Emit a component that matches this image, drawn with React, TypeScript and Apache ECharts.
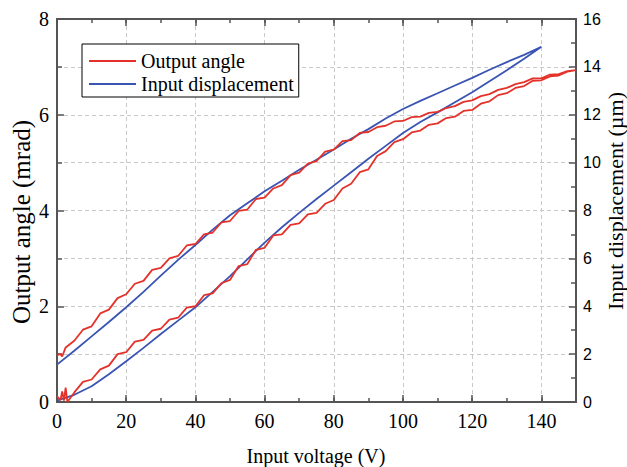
import React, { useEffect, useRef } from "react";
import * as echarts from "echarts";

// Output angle (mrad), left axis: rising branch then falling branch
const angleRise: [number, number][] = [
  [0, 0.12], [1, 0.04], [1.5, 0.22], [2, 0.03], [2.5, 0.3], [3, 0.0], [4, 0.1], [5, 0.2],
  [7.5, 0.42], [10, 0.47], [12.5, 0.68], [15, 0.76], [17.5, 1.0], [20, 1.04], [22.5, 1.26],
  [25, 1.3], [27.5, 1.49], [30, 1.53], [32.5, 1.72], [35, 1.76], [37.5, 1.97], [40, 2.0],
  [42.5, 2.23], [45, 2.27], [47.5, 2.48], [50, 2.55], [52.5, 2.84], [55, 2.88], [57.5, 3.18],
  [60, 3.22], [62.5, 3.48], [65, 3.5], [67.5, 3.7], [70, 3.73], [72.5, 3.92], [75, 3.95],
  [77.5, 4.14], [80, 4.22], [82.5, 4.46], [85, 4.56], [87.5, 4.8], [90, 4.86], [92.5, 5.14],
  [95, 5.24], [97.5, 5.43], [100, 5.49], [102.5, 5.63], [105, 5.67], [107.5, 5.79], [110, 5.82],
  [112.5, 5.93], [115, 5.96], [117.5, 6.08], [120, 6.1], [122.5, 6.23], [125, 6.28], [127.5, 6.41],
  [130, 6.45], [132.5, 6.56], [135, 6.6], [137.5, 6.71], [140, 6.72], [142.5, 6.8], [145, 6.82],
  [147.5, 6.9], [150, 6.93],
];
const angleFall: [number, number][] = [
  [147.5, 6.91], [145, 6.85], [142.5, 6.84], [140, 6.76], [137.5, 6.76], [135, 6.68], [132.5, 6.64],
  [130, 6.56], [127.5, 6.52], [125, 6.43], [122.5, 6.39], [120, 6.3], [117.5, 6.27], [115, 6.18],
  [112.5, 6.14], [110, 6.06], [107.5, 6.04], [105, 5.96], [102.5, 5.95], [100, 5.87], [97.5, 5.86],
  [95, 5.77], [92.5, 5.74], [90, 5.64], [87.5, 5.62], [85, 5.47], [82.5, 5.45], [80, 5.27],
  [77.5, 5.23], [75, 5.03], [72.5, 4.98], [70, 4.79], [67.5, 4.74], [65, 4.53], [62.5, 4.46],
  [60, 4.27], [57.5, 4.24], [55, 4.02], [52.5, 3.99], [50, 3.78], [47.5, 3.75], [45, 3.54],
  [42.5, 3.5], [40, 3.3], [37.5, 3.27], [35, 3.05], [32.5, 3.0], [30, 2.8], [27.5, 2.76],
  [25, 2.53], [22.5, 2.47], [20, 2.25], [17.5, 2.17], [15, 1.93], [12.5, 1.85], [10, 1.58],
  [7.5, 1.51], [5, 1.28], [2.5, 1.14], [1.5, 0.95], [1, 1.0], [0, 0.98],
];

// Input displacement (µm), right axis: rising branch then falling branch
const dispRise: [number, number][] = [
  [0, 0.06], [5, 0.3], [10, 0.66], [15, 1.16], [20, 1.7], [25, 2.26], [30, 2.84], [35, 3.4],
  [40, 3.96], [45, 4.6], [50, 5.26], [55, 5.96], [60, 6.66], [65, 7.3], [70, 7.9], [75, 8.48],
  [80, 9.04], [85, 9.6], [90, 10.16], [95, 10.7], [100, 11.24], [105, 11.7], [110, 12.1],
  [115, 12.52], [120, 12.94], [125, 13.4], [130, 13.86], [135, 14.34], [140, 14.84],
];
const dispFall: [number, number][] = [
  [135, 14.5], [130, 14.2], [125, 13.88], [120, 13.54], [115, 13.22], [110, 12.9], [105, 12.58],
  [100, 12.24], [95, 11.84], [90, 11.4], [85, 11.0], [80, 10.55], [75, 10.12], [70, 9.7],
  [65, 9.24], [60, 8.8], [55, 8.3], [50, 7.8], [45, 7.2], [40, 6.56], [35, 5.94], [30, 5.28],
  [25, 4.6], [20, 3.96], [15, 3.34], [10, 2.74], [5, 2.14], [0, 1.56],
];

const seriesNames = ["Output angle", "Input displacement"];
const xTitle = "Input voltage (V)";
const yLeftTitle = "Output angle (mrad)";
const yRightTitle = "Input displacement (µm)";

const SERIF = '"Liberation Serif", "Times New Roman", serif';
const SANS = '"Liberation Sans", Arial, sans-serif';
const AXIS_COLOR = "#555555";
const GRID_LINE = { show: true, lineStyle: { color: "#c9c9c9", type: [4, 3] as any, width: 1 } };

export default function App() {
  const ref = useRef<HTMLDivElement>(null);
  useEffect(() => {
    if (!ref.current) return;
    const chart = echarts.init(ref.current, undefined, { renderer: "svg" });
    const axisLine = { show: true, onZero: false, lineStyle: { color: AXIS_COLOR, width: 2 } };
    const xCommon = { type: "value" as const, min: 0, max: 150, axisLine };
    chart.setOption({
      animation: false,
      backgroundColor: "#ffffff",
      grid: { left: 57, right: 51, top: 19, bottom: 65, containLabel: false },
      legend: {
        orient: "vertical",
        left: 82,
        top: 44,
        padding: [7, 5, 3, 7],
        itemGap: 3,
        itemWidth: 47,
        itemHeight: 2,
        icon: "rect",
        borderColor: "#000",
        borderWidth: 1,
        backgroundColor: "#fff",
        textStyle: { fontFamily: SERIF, fontSize: 20, lineHeight: 20, color: "#000", padding: [0, 0, 0, 0] },
        data: seriesNames,
      },
      xAxis: [
        {
          ...xCommon, position: "bottom", interval: 20,
          axisTick: { show: true, inside: true, length: 7, lineStyle: { color: AXIS_COLOR, width: 1.5 } },
          axisLabel: { show: true, margin: 9, fontFamily: SERIF, fontSize: 20, color: "#000", showMaxLabel: false },
          splitLine: GRID_LINE,
        },
        {
          ...xCommon, position: "bottom", interval: 10,
          axisTick: { show: true, inside: true, length: 4, lineStyle: { color: AXIS_COLOR, width: 1.5 } },
          axisLabel: { show: false }, splitLine: { show: false },
        },
        {
          ...xCommon, position: "top", interval: 20,
          axisTick: { show: true, inside: true, length: 7, lineStyle: { color: AXIS_COLOR, width: 1.5 } },
          axisLabel: { show: false }, splitLine: { show: false },
        },
        {
          ...xCommon, position: "top", interval: 10,
          axisTick: { show: true, inside: true, length: 4, lineStyle: { color: AXIS_COLOR, width: 1.5 } },
          axisLabel: { show: false }, splitLine: { show: false },
        },
      ],
      yAxis: [
        {
          type: "value", position: "left", min: 0, max: 8, interval: 2, axisLine,
          axisTick: { show: true, inside: true, length: 7, lineStyle: { color: AXIS_COLOR, width: 1.5 } },
          minorTick: { show: true, splitNumber: 2, length: 5, lineStyle: { color: AXIS_COLOR, width: 1.5 } },
          axisLabel: { margin: 8, fontFamily: SERIF, fontSize: 20, color: "#000" },
          splitLine: GRID_LINE,
          minorSplitLine: GRID_LINE,
        },
        {
          type: "value", position: "right", min: 0, max: 16, interval: 2, axisLine,
          axisTick: { show: true, inside: true, length: 7, lineStyle: { color: AXIS_COLOR, width: 1.5 } },
          minorTick: { show: true, splitNumber: 2, length: 5, lineStyle: { color: AXIS_COLOR, width: 1.5 } },
          axisLabel: { margin: 7, fontFamily: SANS, fontSize: 16, color: "#000" },
          splitLine: { show: false },
        },
      ],
      graphic: [
        { type: "text", x: 316, y: 456, style: { text: xTitle, font: `20px ${SERIF}`, fill: "#000", align: "center", verticalAlign: "middle" } },
        { type: "text", x: 21, y: 222, rotation: Math.PI / 2, style: { text: yLeftTitle, font: `25px ${SERIF}`, fill: "#000", align: "center", verticalAlign: "middle" } },
        { type: "text", x: 615, y: 201, rotation: Math.PI / 2, style: { text: yRightTitle, font: `22px ${SERIF}`, fill: "#000", align: "center", verticalAlign: "middle" } },
      ],
      series: [
        {
          name: seriesNames[0], type: "line", xAxisIndex: 0, yAxisIndex: 0,
          showSymbol: false, symbol: "none", z: 3,
          lineStyle: { color: "#e4322a", width: 1.8 },
          itemStyle: { color: "#e4322a" },
          data: [...angleRise, ...angleFall],
        },
        {
          name: seriesNames[1], type: "line", xAxisIndex: 0, yAxisIndex: 1,
          showSymbol: false, symbol: "none", z: 2,
          lineStyle: { color: "#3a54b2", width: 1.8 },
          itemStyle: { color: "#3a54b2" },
          data: [...dispRise, ...dispFall],
        },
      ],
    });
    return () => chart.dispose();
  }, []);
  return <div ref={ref} style={{ position: "fixed", left: 0, top: 0, width: 627, height: 467 }} />;
}
